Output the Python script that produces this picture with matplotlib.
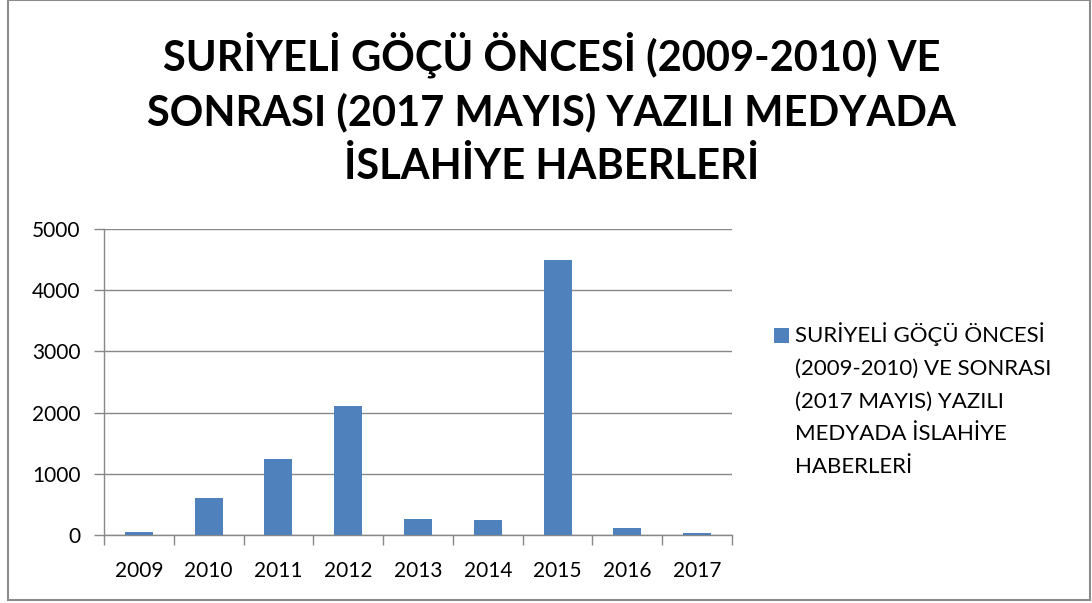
import matplotlib.pyplot as plt
from matplotlib.patches import Rectangle
import numpy as np

# Data
years = ['2009', '2010', '2011', '2012', '2013', '2014', '2015', '2016', '2017']
news_counts = [50, 600, 1250, 2100, 260, 240, 4500, 110, 40]
y_ticks = [0, 1000, 2000, 3000, 4000, 5000]

title = 'SURİYELİ GÖÇÜ ÖNCESİ (2009-2010) VE\nSONRASI (2017 MAYIS) YAZILI MEDYADA\nİSLAHİYE HABERLERİ'
legend_label = ('SURİYELİ GÖÇÜ ÖNCESİ\n(2009-2010) VE SONRASI\n(2017 MAYIS) YAZILI\n'
                'MEDYADA İSLAHİYE\nHABERLERİ')

bar_color = '#4F81BD'
grid_color = '#888888'

plt.rcParams['font.family'] = ['Lato', 'DejaVu Sans']

fig = plt.figure(figsize=(10.92, 6.03), dpi=100, facecolor='white')
ax = fig.add_axes([104 / 1092, 1 - 535 / 603, (732 - 104) / 1092, (535 - 229) / 603])

x = np.arange(len(years))
ax.bar(x, news_counts, width=0.4, color=bar_color, zorder=3)

ax.set_xlim(-0.5, len(years) - 0.5)
ax.set_ylim(0, 5000)
ax.set_yticks(y_ticks)
ax.set_yticklabels([str(t) for t in y_ticks], fontsize=15)

# category labels centred, tick marks between categories
ax.set_xticks(x)
ax.set_xticklabels(years, fontsize=15)
ax.tick_params(axis='x', length=0, pad=19)
ax.set_xticks(np.arange(len(years) + 1) - 0.5, minor=True)
ax.tick_params(axis='x', which='minor', length=7, color=grid_color, width=1)
ax.tick_params(axis='y', length=7, color=grid_color, width=1, pad=10)

ax.grid(axis='y', color=grid_color, linewidth=1, zorder=0)
for side in ['top', 'right']:
    ax.spines[side].set_visible(False)
for side in ['left', 'bottom']:
    ax.spines[side].set_color(grid_color)
    ax.spines[side].set_linewidth(1)

fig.text(0.505, 0.82, title, ha='center', va='center', fontsize=30,
         fontweight='bold', linespacing=1.45)

# legend: square marker next to the first line of the wrapped label
fig.patches.append(Rectangle((774 / 1092, 1 - 343 / 603), 15 / 1092, 15 / 603,
                             transform=fig.transFigure, facecolor=bar_color,
                             edgecolor='none'))
fig.text(795 / 1092, 1 - 322 / 603, legend_label, ha='left', va='top',
         fontsize=16, linespacing=1.8)

# outer chart frame
fig.patches.append(Rectangle((8 / 1092, 3 / 603), (1090 - 8) / 1092, 600 / 603,
                             transform=fig.transFigure, fill=False,
                             edgecolor='#8c8c8c', linewidth=1.5))

plt.savefig('out.png', dpi=100, facecolor='white')
